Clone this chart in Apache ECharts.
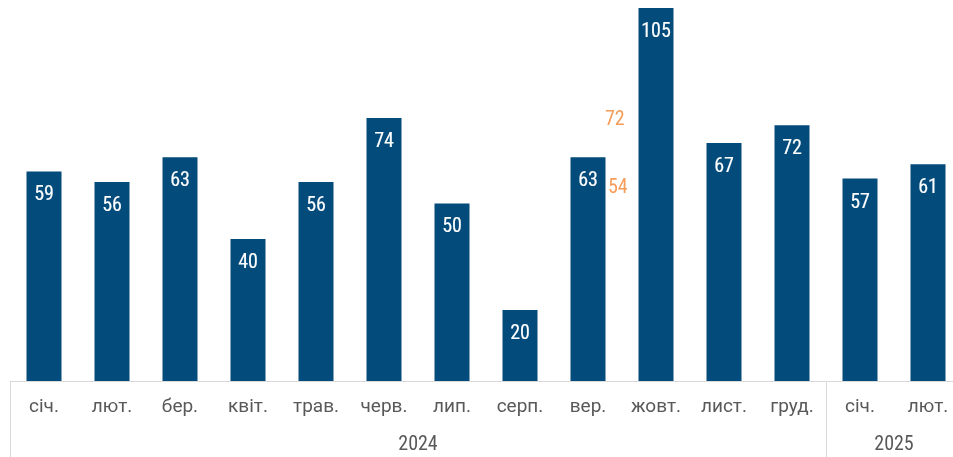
<!DOCTYPE html>
<html>
<head>
<meta charset="utf-8">
<script src="https://cdn.jsdelivr.net/npm/echarts@6/dist/echarts.min.js"></script>
<style>
html, body { margin: 0; padding: 0; background: #fff; overflow: hidden; }
#main { width: 964px; height: 457px; }
</style>
</head>
<body>
<div id="main"></div>
<script>
var months = ['січ.', 'лют.', 'бер.', 'квіт.', 'трав.', 'черв.', 'лип.', 'серп.', 'вер.', 'жовт.', 'лист.', 'груд.', 'січ.', 'лют.'];
var values = [59, 56, 63, 40, 56, 74, 50, 20, 63, 105, 67, 72, 57, 61];
var years = ['2024', '2025'];
var yearStarts = [0, 12];      // category index where each year starts
var yearCenters = [6, 13];     // middle of each year's span
var orangeIndex = 8;           // вер.
var orangeValues = [72, 54];

var chart = echarts.init(document.getElementById('main'));

var narrow = '"Liberation Sans Narrow", "Roboto Condensed", Roboto, sans-serif';
var monthFont = 'Roboto, sans-serif';

chart.setOption({
    animation: false,
    grid: { left: 10, right: 2, top: 8, bottom: 76, containLabel: false },
    xAxis: [{
        type: 'category',
        data: months.map(function (m, i) { return i + ':' + m; }),
        position: 'bottom',
        axisLine: { show: true, lineStyle: { color: '#d9d9d9', width: 1 } },
        axisTick: { show: false },
        axisLabel: {
            color: '#595959',
            fontSize: 19,
            fontFamily: monthFont,
            margin: 17,
            interval: 0,
            formatter: function (v) { return v.split(':')[1]; }
        }
    }, {
        type: 'value',
        min: 0,
        max: 14,
        position: 'bottom',
        offset: 76,
        axisLine: { show: false },
        splitLine: { show: false },
        axisTick: {
            show: true,
            inside: true,
            length: 76,
            customValues: yearStarts,
            lineStyle: { color: '#d9d9d9', width: 1 }
        },
        axisLabel: {
            show: true,
            inside: true,
            margin: 2,
            color: '#595959',
            fontSize: 20,
            fontFamily: narrow,
            customValues: yearCenters,
            formatter: function (v) { return years[yearCenters.indexOf(v)]; }
        }
    }],
    yAxis: {
        type: 'value',
        min: 0,
        max: 105,
        show: false
    },
    series: [{
        type: 'bar',
        data: values,
        barWidth: 35,
        itemStyle: { color: '#034b7b' },
        label: {
            show: true,
            position: 'insideTop',
            distance: 14,
            color: '#ffffff',
            fontSize: 20,
            fontFamily: narrow,
            textBorderColor: '#ffffff',
            textBorderWidth: 0.15
        }
    }, {
        type: 'scatter',
        symbolSize: 0,
        data: orangeValues.map(function (v, i) {
            return {
                value: [orangeIndex, v],
                label: { offset: i === 0 ? [-2, -5] : [1, -1] }
            };
        }),
        label: {
            show: true,
            position: 'right',
            distance: 19,
            color: '#f2832e',
            fontSize: 20,
            fontFamily: narrow,
            formatter: function (p) { return p.value[1]; }
        }
    }]
});
</script>
</body>
</html>
